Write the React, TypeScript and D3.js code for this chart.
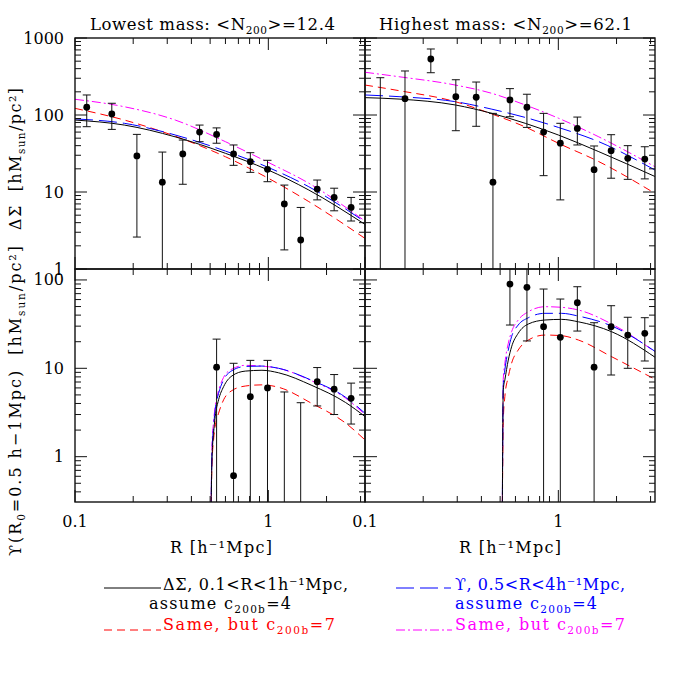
import React from 'react';
import * as d3 from 'd3';

// ---------------- data ----------------
// Delta Sigma, lowest mass bin
const R_LOW = [0.115, 0.155, 0.209, 0.283, 0.361, 0.441, 0.540, 0.661, 0.807, 0.99, 1.21, 1.47, 1.79, 2.19, 2.68];
const DS_LOW = [126, 103, 29.4, 13.4, 31.2, 60, 56, 31.2, 24.8, 19.7, 7.0, 2.38, 10.9, 8.5, 6.3];
const DS_LOW_HI = [182, 142, 56, 33, 47.3, 74, 68, 40.8, 32.4, 25.8, 12.3, 6.3, 14.3, 11.2, 8.5];
const DS_LOW_LO = [70.5, 65, 2.6, null, 12.6, 45, 43, 22.2, 18, 13.6, 1.77, null, 7.9, 5.7, 4.2];

// Delta Sigma, highest mass bin
const R_HIGH = [0.12, 0.161, 0.219, 0.295, 0.376, 0.459, 0.562, 0.688, 0.839, 1.024, 1.254, 1.531, 1.875, 2.286, 2.8];
const DS_HIGH = [null, 163, 534, 173, 170, 13.4, 157, 126, 60, 43, 67, 19.5, 34.4, 27.4, 26.8];
const DS_HIGH_HI = [305, 373, 720, 287, 268, 105, 220, 186, 105, 78, 94, 39.6, 55.5, 40, 38.7];
const DS_HIGH_LO = [null, null, 354, 62.5, 71.3, null, 95, 69, 16.3, 7.9, 40.8, null, 15.1, 14.6, 14.8];

// Upsilon, lowest mass bin
const R_UPS_LOW = [0.540, 0.661, 0.807, 0.99, 1.21, 1.47, 1.79, 2.19, 2.68];
const UPS_LOW = [10.3, 0.61, 4.77, 6.0, null, null, 7.05, 5.8, 4.58];
const UPS_LOW_HI = [21.4, 11.4, 12.3, 12.3, 5.4, 4.08, 10.2, 8.5, 6.8];
const UPS_LOW_LO = [null, null, null, null, null, null, 3.75, 3.0, 2.34];

// Upsilon, highest mass bin
const R_UPS_HIGH = [0.562, 0.688, 0.839, 1.024, 1.254, 1.531, 1.875, 2.286, 2.8];
const UPS_HIGH = [89.9, 82.5, 29.6, 22.4, 55.2, 10.3, 29.6, 23.8, 24.9];
const UPS_HIGH_HI = [null, null, 78.9, 60.8, 83.8, 32.8, 51.1, 37.8, 37.4];
const UPS_HIGH_LO = [30.9, 20.4, null, null, 26.4, null, 8.4, 10.0, 12.1];

// model curves: Delta Sigma, lowest mass
const R_MOD_DS_LOW = [0.1, 0.18, 0.33, 0.6, 0.98, 1.62, 3.16];
const MOD_DS_LOW_DS4 = [86, 74, 52, 31.8, 19.7, 10.6, 3.8];
const MOD_DS_LOW_DS7 = [122, 86, 53, 28.7, 15.5, 7.5, 2.5];
const MOD_DS_LOW_UP4 = [89, 78, 55, 34, 21.3, 11.7, 4.1];
const MOD_DS_LOW_UP7 = [160, 128, 86, 45, 24.8, 13, 4.2];

// model curves: Delta Sigma, highest mass
const R_MOD_DS_HIGH = [0.1, 0.15, 0.293, 0.453, 0.674, 1.0, 1.62, 3.16];
const MOD_DS_HIGH_DS4 = [168, 161, 135, 105, 78, 55, 33.4, 15.9];
const MOD_DS_HIGH_DS7 = [245, 207, 149, 103, 70, 43, 24.8, 9.6];
const MOD_DS_HIGH_UP4 = [182, 173, 149, 119, 93, 69, 45, 19.3];
const MOD_DS_HIGH_UP7 = [359, 314, 245, 191, 135, 91, 52, 21.3];

// model curves: Upsilon, lowest mass
const R_MOD_UPS_LOW = [0.505, 0.511, 0.521, 0.531, 0.553, 0.587, 0.648, 0.76, 0.927, 1.13, 1.68, 2.51, 3.16];
const MOD_UPS_LOW_DS4 = [0.2, 0.92, 1.84, 2.83, 4.4, 6.2, 8.2, 9.3, 9.5, 8.9, 6.4, 4.1, 2.85];
const MOD_UPS_LOW_DS7 = [0.2, 0.8, 1.55, 2.2, 3.1, 4.4, 5.6, 6.3, 6.5, 6.1, 4.0, 2.4, 1.55];
const MOD_UPS_LOW_UP4 = [0.2, 1.1, 2.18, 3.4, 5.2, 7.4, 9.4, 10.5, 10.6, 10.0, 7.3, 4.7, 3.1];
const MOD_UPS_LOW_UP7 = [0.2, 1.3, 2.5, 3.7, 5.6, 7.9, 9.8, 10.8, 10.6, 10.0, 7.2, 4.6, 3.0];

// model curves: Upsilon, highest mass
const R_MOD_UPS_HIGH = [0.513, 0.519, 0.529, 0.551, 0.573, 0.62, 0.699, 0.853, 1.04, 1.27, 1.89, 3.17];
const MOD_UPS_HIGH_DS4 = [0.2, 5.7, 7.4, 12.4, 17.5, 24.9, 31.7, 35.2, 35.8, 33.6, 25.9, 13.3];
const MOD_UPS_HIGH_DS7 = [0.2, 2.5, 4.8, 8.0, 11.4, 16.1, 20.9, 23.8, 23.4, 20.9, 13.5, 7.5];
const MOD_UPS_HIGH_UP4 = [0.2, 6.5, 9.6, 16.1, 22.8, 30.9, 37.3, 41.9, 41.9, 39, 30.1, 15.5];
const MOD_UPS_HIGH_UP7 = [0.2, 7.5, 11.4, 19.2, 25.9, 35.2, 43.6, 49.8, 49, 45.7, 31.7, 15.3];

// axes
const X_DOMAIN = [0.1, 3.1623];
const Y_TOP_DOMAIN = [1, 1000];
const Y_BOT_DOMAIN = [0.307, 133];
const TITLES = ['Lowest mass: <N', 'Highest mass: <N'];
const TITLE_TAILS = ['>=12.4', '>=62.1'];

// ---------------- layout ----------------
const COLS = [{ x0: 75, x1: 365 }, { x0: 365, x1: 655 }];
const ROWS = [{ y0: 38, y1: 269 }, { y0: 269, y1: 502 }];
const FONT = 'DejaVu Serif';

const STYLE = {
  ds4: { stroke: '#000', dash: undefined },
  ds7: { stroke: '#ff0000', dash: '8 5' },
  up4: { stroke: '#0000ff', dash: '18 6' },
  up7: { stroke: '#ff00ff', dash: '9 3 2 3' },
};

type Curve = { r: number[]; v: number[]; style: keyof typeof STYLE };
type Pts = { r: number[]; v: (number | null)[]; hi: (number | null)[]; lo: (number | null)[] };

const isMajor = (t: number) => Math.abs(Math.log10(t) - Math.round(Math.log10(t))) < 1e-6;

function Panel({ id, col, row, yDomain, curves, pts }: { id: string; col: number; row: number; yDomain: number[]; curves: Curve[]; pts: Pts }) {
  const { x0, x1 } = COLS[col];
  const { y0, y1 } = ROWS[row];
  const x = d3.scaleLog().domain(X_DOMAIN).range([x0, x1]);
  const y = d3.scaleLog().domain(yDomain).range([y1, y0]);
  const xt = x.ticks();
  const yt = y.ticks();
  const line = d3
    .line<[number, number]>()
    .x((d) => x(d[0]))
    .y((d) => y(d[1]))
    .curve(d3.curveMonotoneX);
  const MAJ = 12, MIN = 6;
  return (
    <g>
      <defs>
        <clipPath id={id}>
          <rect x={x0} y={y0} width={x1 - x0} height={y1 - y0} />
        </clipPath>
      </defs>
      <g clipPath={`url(#${id})`}>
        {curves.map((c, i) => (
          <path
            key={i}
            d={line(c.r.map((r, k) => [r, c.v[k]] as [number, number])) || ''}
            fill="none"
            stroke={STYLE[c.style].stroke}
            strokeWidth={1}
            strokeDasharray={STYLE[c.style].dash}
          />
        ))}
        {pts.r.map((r, i) => {
          const px = x(r);
          const hi = pts.hi[i];
          const lo = pts.lo[i];
          const v = pts.v[i];
          const yh = hi == null ? y0 - 5 : y(hi);
          const yl = lo == null ? y1 + 5 : y(lo);
          return (
            <g key={i} stroke="#111" strokeWidth={1}>
              <line x1={px} x2={px} y1={yl} y2={yh} />
              {hi != null && <line x1={px - 4} x2={px + 4} y1={yh} y2={yh} />}
              {lo != null && <line x1={px - 4} x2={px + 4} y1={yl} y2={yl} />}
              {v != null && <circle cx={px} cy={y(v)} r={3.4} fill="#000" stroke="none" />}
            </g>
          );
        })}
      </g>
      <g stroke="#111" strokeWidth={1}>
        {xt.map((t, i) => {
          const L = isMajor(t) ? MAJ : MIN;
          const px = x(t);
          return (
            <g key={'x' + i}>
              <line x1={px} x2={px} y1={y1} y2={y1 - L} />
              <line x1={px} x2={px} y1={y0} y2={y0 + L} />
            </g>
          );
        })}
        {yt.map((t, i) => {
          const L = isMajor(t) ? MAJ : MIN;
          const py = y(t);
          return (
            <g key={'y' + i}>
              <line x1={x0} x2={x0 + L} y1={py} y2={py} />
              <line x1={x1} x2={x1 - L} y1={py} y2={py} />
            </g>
          );
        })}
        <rect x={x0} y={y0} width={x1 - x0} height={y1 - y0} fill="none" strokeWidth={1.4} />
      </g>
      {col === 0 &&
        yt.filter(isMajor).map((t, i) => (
          <text key={'yl' + i} x={64} y={y(t) + 5.5} textAnchor="end" fontSize={16} fontFamily={FONT} fill="#000">
            {String(t)}
          </text>
        ))}
      {row === 1 &&
        xt.filter(isMajor).map((t, i) => (
          <text key={'xl' + i} x={x(t)} y={527} textAnchor="middle" fontSize={16} fontFamily={FONT} fill="#000">
            {String(t)}
          </text>
        ))}
    </g>
  );
}

function LegendLine({ x1, x2, y, style }: { x1: number; x2: number; y: number; style: keyof typeof STYLE }) {
  return <line x1={x1} x2={x2} y1={y} y2={y} stroke={STYLE[style].stroke} strokeWidth={1} strokeDasharray={STYLE[style].dash} />;
}

export default function App() {
  const txt = { fontFamily: FONT, fontSize: 16, fill: '#000' } as const;
  const sub = { fontSize: 10.5 } as const;
  return (
    <svg width={692} height={692} viewBox="0 0 692 692" style={{ position: 'absolute', left: 0, top: 0, background: '#fff' }}>
      <rect width={692} height={692} fill="#fff" />
      <Panel
        id="c00"
        col={0}
        row={0}
        yDomain={Y_TOP_DOMAIN}
        curves={[
          { r: R_MOD_DS_LOW, v: MOD_DS_LOW_DS7, style: 'ds7' },
          { r: R_MOD_DS_LOW, v: MOD_DS_LOW_UP7, style: 'up7' },
          { r: R_MOD_DS_LOW, v: MOD_DS_LOW_UP4, style: 'up4' },
          { r: R_MOD_DS_LOW, v: MOD_DS_LOW_DS4, style: 'ds4' },
        ]}
        pts={{ r: R_LOW, v: DS_LOW, hi: DS_LOW_HI, lo: DS_LOW_LO }}
      />
      <Panel
        id="c10"
        col={1}
        row={0}
        yDomain={Y_TOP_DOMAIN}
        curves={[
          { r: R_MOD_DS_HIGH, v: MOD_DS_HIGH_DS7, style: 'ds7' },
          { r: R_MOD_DS_HIGH, v: MOD_DS_HIGH_UP7, style: 'up7' },
          { r: R_MOD_DS_HIGH, v: MOD_DS_HIGH_UP4, style: 'up4' },
          { r: R_MOD_DS_HIGH, v: MOD_DS_HIGH_DS4, style: 'ds4' },
        ]}
        pts={{ r: R_HIGH, v: DS_HIGH, hi: DS_HIGH_HI, lo: DS_HIGH_LO }}
      />
      <Panel
        id="c01"
        col={0}
        row={1}
        yDomain={Y_BOT_DOMAIN}
        curves={[
          { r: R_MOD_UPS_LOW, v: MOD_UPS_LOW_DS7, style: 'ds7' },
          { r: R_MOD_UPS_LOW, v: MOD_UPS_LOW_UP7, style: 'up7' },
          { r: R_MOD_UPS_LOW, v: MOD_UPS_LOW_UP4, style: 'up4' },
          { r: R_MOD_UPS_LOW, v: MOD_UPS_LOW_DS4, style: 'ds4' },
        ]}
        pts={{ r: R_UPS_LOW, v: UPS_LOW, hi: UPS_LOW_HI, lo: UPS_LOW_LO }}
      />
      <Panel
        id="c11"
        col={1}
        row={1}
        yDomain={Y_BOT_DOMAIN}
        curves={[
          { r: R_MOD_UPS_HIGH, v: MOD_UPS_HIGH_DS7, style: 'ds7' },
          { r: R_MOD_UPS_HIGH, v: MOD_UPS_HIGH_UP7, style: 'up7' },
          { r: R_MOD_UPS_HIGH, v: MOD_UPS_HIGH_UP4, style: 'up4' },
          { r: R_MOD_UPS_HIGH, v: MOD_UPS_HIGH_DS4, style: 'ds4' },
        ]}
        pts={{ r: R_UPS_HIGH, v: UPS_HIGH, hi: UPS_HIGH_HI, lo: UPS_HIGH_LO }}
      />

      {/* titles */}
      {[0, 1].map((c) => (
        <text key={'t' + c} x={c === 0 ? 90 : 379} y={30} {...txt} fontSize={16.5} textLength={c === 0 ? 245 : 253} lengthAdjust="spacing" style={{ whiteSpace: 'pre' }}>
          {TITLES[c]}
          <tspan dy={4} {...sub}>200</tspan>
          <tspan dy={-4}>{TITLE_TAILS[c]}</tspan>
        </text>
      ))}

      {/* x axis titles */}
      {[0, 1].map((c) => (
        <text key={'xt' + c} x={c === 0 ? 170 : 459} y={553} {...txt} textLength={102} lengthAdjust="spacing" style={{ whiteSpace: 'pre' }}>
          {'R [h⁻¹Mpc]'}
        </text>
      ))}

      {/* y axis titles */}
      <text transform="translate(21,230) rotate(-90)" {...txt} textLength={142} lengthAdjust="spacing" style={{ whiteSpace: 'pre' }}>
        {'ΔΣ  [hM'}
        <tspan dy={3.5} {...sub}>sun</tspan>
        <tspan dy={-3.5}>{'/pc²]'}</tspan>
      </text>
      <text transform="translate(21,556) rotate(-90)" {...txt} textLength={310} lengthAdjust="spacing" style={{ whiteSpace: 'pre' }}>
        {'ϒ(R'}
        <tspan dy={3.5} {...sub}>0</tspan>
        <tspan dy={-3.5}>{'=0.5 h−1Mpc)  [hM'}</tspan>
        <tspan dy={3.5} {...sub}>sun</tspan>
        <tspan dy={-3.5}>{'/pc²]'}</tspan>
      </text>

      {/* legend */}
      <LegendLine x1={104} x2={161} y={588} style="ds4" />
      <text x={163} y={590} {...txt} textLength={185} lengthAdjust="spacing">
        {'ΔΣ, 0.1<R<1h⁻¹Mpc,'}
      </text>
      <text x={149} y={609} {...txt} textLength={142} lengthAdjust="spacing">
        {'assume c'}
        <tspan dy={4} {...sub}>200b</tspan>
        <tspan dy={-4}>=4</tspan>
      </text>
      <LegendLine x1={104} x2={161} y={630} style="ds7" />
      <text x={163} y={630} {...txt} fill="#ff0000" textLength={172} lengthAdjust="spacing">
        {'Same, but c'}
        <tspan dy={4} {...sub}>200b</tspan>
        <tspan dy={-4}>=7</tspan>
      </text>

      <LegendLine x1={396} x2={451} y={588} style="up4" />
      <text x={455} y={590} {...txt} fill="#0000ff" textLength={170} lengthAdjust="spacing">
        {'ϒ, 0.5<R<4h⁻¹Mpc,'}
      </text>
      <text x={455} y={609} {...txt} fill="#0000ff" textLength={142} lengthAdjust="spacing">
        {'assume c'}
        <tspan dy={4} {...sub}>200b</tspan>
        <tspan dy={-4}>=4</tspan>
      </text>
      <LegendLine x1={396} x2={452} y={630} style="up7" />
      <text x={455} y={630} {...txt} fill="#ff00ff" textLength={170} lengthAdjust="spacing">
        {'Same, but c'}
        <tspan dy={4} {...sub}>200b</tspan>
        <tspan dy={-4}>=7</tspan>
      </text>
    </svg>
  );
}
